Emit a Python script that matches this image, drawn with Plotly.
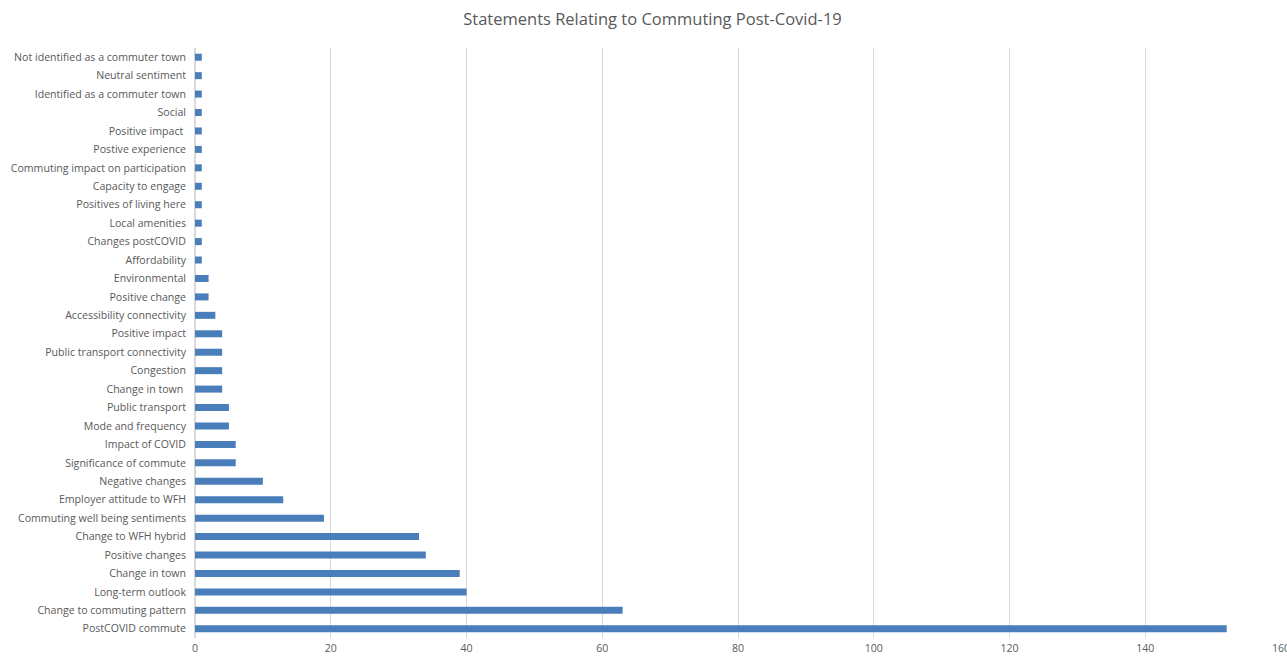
import plotly.graph_objects as go

categories = [
    "PostCOVID commute", "Change to commuting pattern", "Long-term outlook", "Change in town",
    "Positive changes", "Change to WFH hybrid", "Commuting well being sentiments",
    "Employer attitude to WFH", "Negative changes", "Significance of commute", "Impact of COVID",
    "Mode and frequency", "Public transport", "Change in town ", "Congestion",
    "Public transport connectivity", "Positive impact", "Accessibility connectivity",
    "Positive change", "Environmental", "Affordability", "Changes postCOVID", "Local amenities",
    "Positives of living here", "Capacity to engage", "Commuting impact on participation",
    "Postive experience", "Positive impact ", "Social", "Identified as a commuter town",
    "Neutral sentiment", "Not identified as a commuter town",
]
values = [152, 63, 40, 39, 34, 33, 19, 13, 10, 6, 6, 5, 5, 4, 4, 4, 4, 3, 2, 2,
          1, 1, 1, 1, 1, 1, 1, 1, 1, 1, 1, 1]
x_ticks = [0, 20, 40, 60, 80, 100, 120, 140, 160]
title = "Statements Relating to Commuting Post-Covid-19"

fig = go.Figure(go.Bar(
    x=values, y=list(range(len(categories))), orientation="h",
    marker=dict(color="#4A7EBB", line=dict(width=0)),
))
fig.update_layout(
    width=1287, height=657,
    margin=dict(l=195, r=6, t=48, b=19, autoexpand=False),
    plot_bgcolor="white", paper_bgcolor="white",
    bargap=0.62,
    showlegend=False,
    font=dict(family="Open Sans, Liberation Sans, sans-serif", color="#595959", size=10.6),
    title=dict(text=title, x=0.507, xref="container", xanchor="center",
               y=0.97, yref="container", yanchor="middle",
               font=dict(size=16.5, color="#595959")),
)
fig.update_xaxes(range=[0, 160], tickvals=x_ticks, ticktext=[str(t) for t in x_ticks],
                 showgrid=True, gridcolor="#D9D9D9", gridwidth=1,
                 zeroline=True, zerolinecolor="#D9D9D9", showline=False,
                 automargin=False, ticklabelstandoff=2, ticklabeloverflow="allow",
                 tickfont=dict(size=10.6, color="#595959"), ticks="")
fig.update_yaxes(tickvals=list(range(len(categories))), ticktext=categories,
                 range=[-0.5, len(categories) - 0.5],
                 showgrid=False, zeroline=False, showline=False, ticks="",
                 automargin=False, ticklabelstandoff=8,
                 tickfont=dict(size=10.6, color="#595959"))
fig.write_html("out.html", config={"displayModeBar": False},
               post_script="document.body.style.margin='0';document.body.style.overflow='hidden';")
